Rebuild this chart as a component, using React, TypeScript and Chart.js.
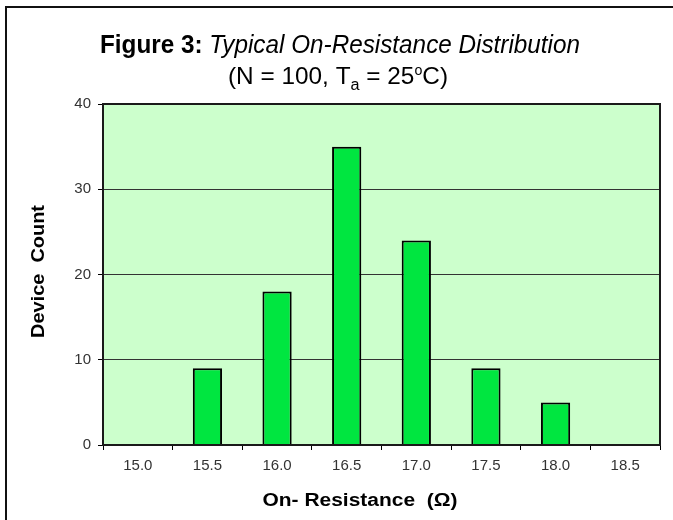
import React, { useEffect, useRef } from 'react';
import { Chart, registerables } from 'chart.js';
Chart.register(...registerables);

const categories = ['15.0', '15.5', '16.0', '16.5', '17.0', '17.5', '18.0', '18.5'];
const deviceCounts = [0, 9, 18, 35, 24, 9, 5, 0];
const yMin = 0;
const yMax = 40;
const yStep = 10;
const titleBold = 'Figure 3: ';
const titleItalic = 'Typical On-Resistance Distribution';
const xTitle = 'On- Resistance  (Ω)';
const yTitle = 'Device  Count';

const FONT = '"Liberation Sans", Arial, Helvetica, sans-serif';

type Run = { text: string; font: string; dy?: number };

function drawRuns(ctx: CanvasRenderingContext2D, runs: Run[], cx: number, baseline: number, targetW?: number) {
  ctx.save();
  ctx.textAlign = 'left';
  ctx.textBaseline = 'alphabetic';
  const widths = runs.map((r) => {
    ctx.font = r.font;
    return ctx.measureText(r.text).width;
  });
  const w = widths.reduce((a, b) => a + b, 0);
  const sx = targetW ? targetW / w : 1;
  ctx.translate(cx - (w * sx) / 2, baseline);
  ctx.scale(sx, 1);
  let x = 0;
  runs.forEach((r, i) => {
    ctx.font = r.font;
    ctx.fillText(r.text, x, r.dy || 0);
    x += widths[i];
  });
  ctx.restore();
}

const decorPlugin = {
  id: 'decor',
  beforeDraw(chart: any) {
    const { ctx, chartArea: a } = chart;
    ctx.save();
    ctx.fillStyle = '#CCFFCC';
    ctx.fillRect(a.left, a.top, a.right - a.left, a.bottom - a.top);
    ctx.restore();
  },
  afterDraw(chart: any) {
    const { ctx, chartArea: a } = chart;
    ctx.save();
    ctx.strokeStyle = '#1a1a1a';
    ctx.lineWidth = 2;
    ctx.strokeRect(a.left, a.top, a.right - a.left, a.bottom - a.top);
    ctx.strokeStyle = '#111';
    ctx.beginPath();
    ctx.moveTo(6, 520);
    ctx.lineTo(6, 7);
    ctx.lineTo(673, 7);
    ctx.stroke();
    ctx.fillStyle = '#000';
    drawRuns(
      ctx,
      [
        { text: titleBold, font: `bold 25px ${FONT}` },
        { text: titleItalic, font: `italic 25px ${FONT}` },
      ],
      340,
      53,
      480
    );
    drawRuns(
      ctx,
      [
        { text: '(N = 100, T', font: `24px ${FONT}` },
        { text: 'a', font: `16px ${FONT}`, dy: 6 },
        { text: ' = 25', font: `24px ${FONT}` },
        { text: 'o', font: `14px ${FONT}`, dy: -9 },
        { text: 'C)', font: `24px ${FONT}` },
      ],
      338,
      84,
      220
    );
    drawRuns(ctx, [{ text: xTitle, font: `bold 18px ${FONT}` }], 360, 506, 195);
    ctx.save();
    ctx.translate(44, 271.5);
    ctx.rotate(-Math.PI / 2);
    drawRuns(ctx, [{ text: yTitle, font: `bold 18px ${FONT}` }], 0, 0, 133);
    ctx.restore();
    ctx.restore();
  },
};

export default function App() {
  const ref = useRef<HTMLCanvasElement | null>(null);
  useEffect(() => {
    if (!ref.current) return;
    const chart = new Chart(ref.current, {
      type: 'bar',
      data: {
        labels: categories,
        datasets: [
          {
            data: deviceCounts,
            backgroundColor: '#00E640',
            borderColor: '#000000',
            borderWidth: 2,
            barPercentage: 0.42,
            categoryPercentage: 1,
          },
        ],
      },
      options: {
        animation: false,
        responsive: false,
        maintainAspectRatio: false,
        layout: { padding: { left: 0, top: 104, right: 13, bottom: 0 } },
        plugins: {
          legend: { display: false },
          tooltip: { enabled: false },
          title: { display: false },
        },
        scales: {
          x: {
            afterFit: (s: any) => {
              s.height = 75;
            },
            grid: {
              display: true,
              drawOnChartArea: false,
              offset: true,
              tickLength: 5,
              tickColor: '#000',
              tickWidth: 1,
            },
            border: { display: true, color: '#1a1a1a', width: 2 },
            ticks: {
              color: '#333',
              font: { family: FONT, size: 15 },
              padding: 7,
              maxRotation: 0,
            },
          },
          y: {
            min: yMin,
            max: yMax,
            afterFit: (s: any) => {
              s.width = 103;
            },
            grid: {
              color: '#333',
              lineWidth: 1,
              tickLength: 5,
              tickColor: '#000',
            },
            border: { display: true, color: '#1a1a1a', width: 2 },
            ticks: {
              stepSize: yStep,
              color: '#333',
              font: { family: FONT, size: 15 },
              padding: 7,
            },
          },
        },
      },
      plugins: [decorPlugin],
    });
    return () => chart.destroy();
  }, []);
  return (
    <div style={{ position: 'absolute', left: 0, top: 0, width: 673, height: 520, background: '#fff' }}>
      <canvas ref={ref} width={673} height={520} style={{ display: 'block' }} />
    </div>
  );
}
